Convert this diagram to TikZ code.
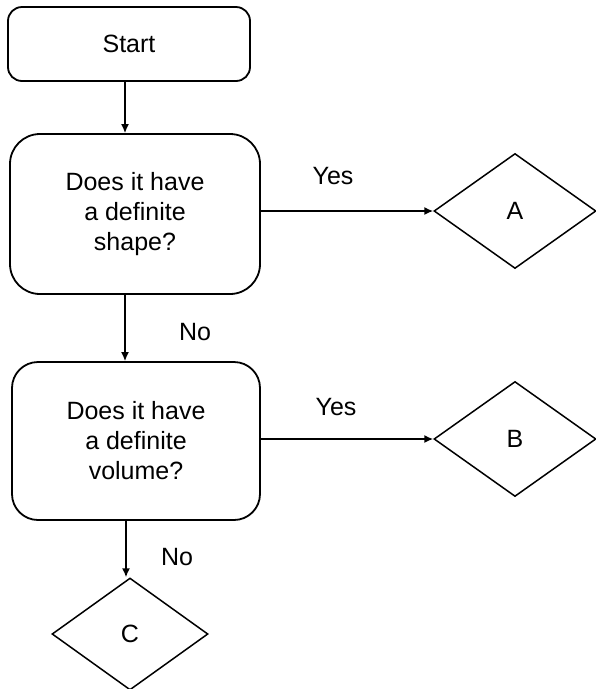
\documentclass[tikz,border=0pt]{standalone}
\usepackage{fontspec}
\setmainfont{Liberation Sans}
\usetikzlibrary{shapes.geometric,arrows.meta}
\begin{document}
\begin{tikzpicture}[x=1pt,y=-1pt,
  every node/.style={font=\fontsize{25}{30}\selectfont},
  box/.style={draw,line width=1.8pt,rectangle,align=center,inner sep=0pt},
  dia/.style={draw,line width=1.5pt,diamond,inner sep=0pt,minimum width=162pt,minimum height=115pt},
  arr/.style={line width=1.5pt,-{Latex[length=9pt,width=8pt]}},
  lbl/.style={inner sep=0pt}]
\useasboundingbox (0,0) rectangle (596,689);
\node[box,rounded corners=14pt,minimum width=242pt,minimum height=74pt] (start) at (129,44) {Start};
\node[box,rounded corners=30pt,minimum width=250pt,minimum height=160pt] (q1) at (135,214) {Does it have\\a definite\\shape?};
\node[box,rounded corners=26pt,minimum width=248pt,minimum height=158pt] (q2) at (136,441) {Does it have\\a definite\\volume?};
\node[dia] (a) at (515,211) {A};
\node[dia] (b) at (515,439) {B};
\node[dia,minimum width=156pt,minimum height=112pt] (c) at (130,634) {C};
\draw[arr] ([xshift=-4pt]start.south) -- ([xshift=-4pt]start.south |- q1.north);
\draw[arr] (a.west -| q1.east) -- (a.west);
\draw[arr] ([xshift=-10pt]q1.south) -- ([xshift=-10pt]q1.south |- q2.north);
\draw[arr] (b.west -| q2.east) -- (b.west);
\draw[arr] ([xshift=-10pt]q2.south) -- ([xshift=-10pt]q2.south |- c.north);
\node[lbl] (y1) at (333,176) {Yes};
\node[lbl] (y2) at (336,407) {Yes};
\node[lbl] (n1) at (195,332) {No};
\node[lbl] (n2) at (177,557) {No};
\end{tikzpicture}
\end{document}
